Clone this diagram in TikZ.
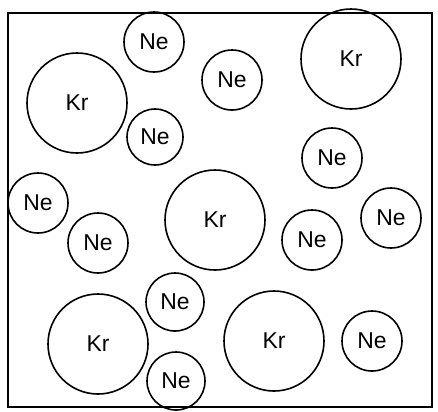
\documentclass[tikz,border=0pt]{standalone}
\usepackage{fontspec}
\setmainfont{Liberation Sans}
\begin{document}
\begin{tikzpicture}[x=1bp,y=-1bp,
  atom/.style={draw, circle, line width=1.6bp, inner sep=0pt, font=\fontsize{23}{25}\selectfont},
  kr/.style={atom, minimum size=100bp},
  ne/.style={atom, minimum size=60bp}]
\useasboundingbox (0,0) rectangle (438,411);
\fill[white] (0,0) rectangle (438,411);
\draw[line width=1.6bp] (8,13) rectangle (432,407);
\node[ne] (ne1) at (154,42) {Ne};
\node[kr] (kr1) at (77,103) {Kr};
\node[ne, minimum size=56bp] (ne2) at (155,137) {Ne};
\node[ne] (ne3) at (232,80) {Ne};
\node[kr] (kr2) at (351,59) {Kr};
\node[ne] (ne4) at (332,158) {Ne};
\node[ne] (ne5) at (391,218) {Ne};
\node[ne] (ne6) at (38,203) {Ne};
\node[ne] (ne7) at (98,243) {Ne};
\node[kr] (kr3) at (215,220) {Kr};
\node[ne] (ne8) at (312,240) {Ne};
\node[ne, minimum size=58bp] (ne9) at (175,302) {Ne};
\node[kr] (kr4) at (98,344) {Kr};
\node[ne, minimum size=58bp] (ne10) at (176,381) {Ne};
\node[kr] (kr5) at (274,341) {Kr};
\node[ne] (ne11) at (372,341) {Ne};
\end{tikzpicture}
\end{document}
